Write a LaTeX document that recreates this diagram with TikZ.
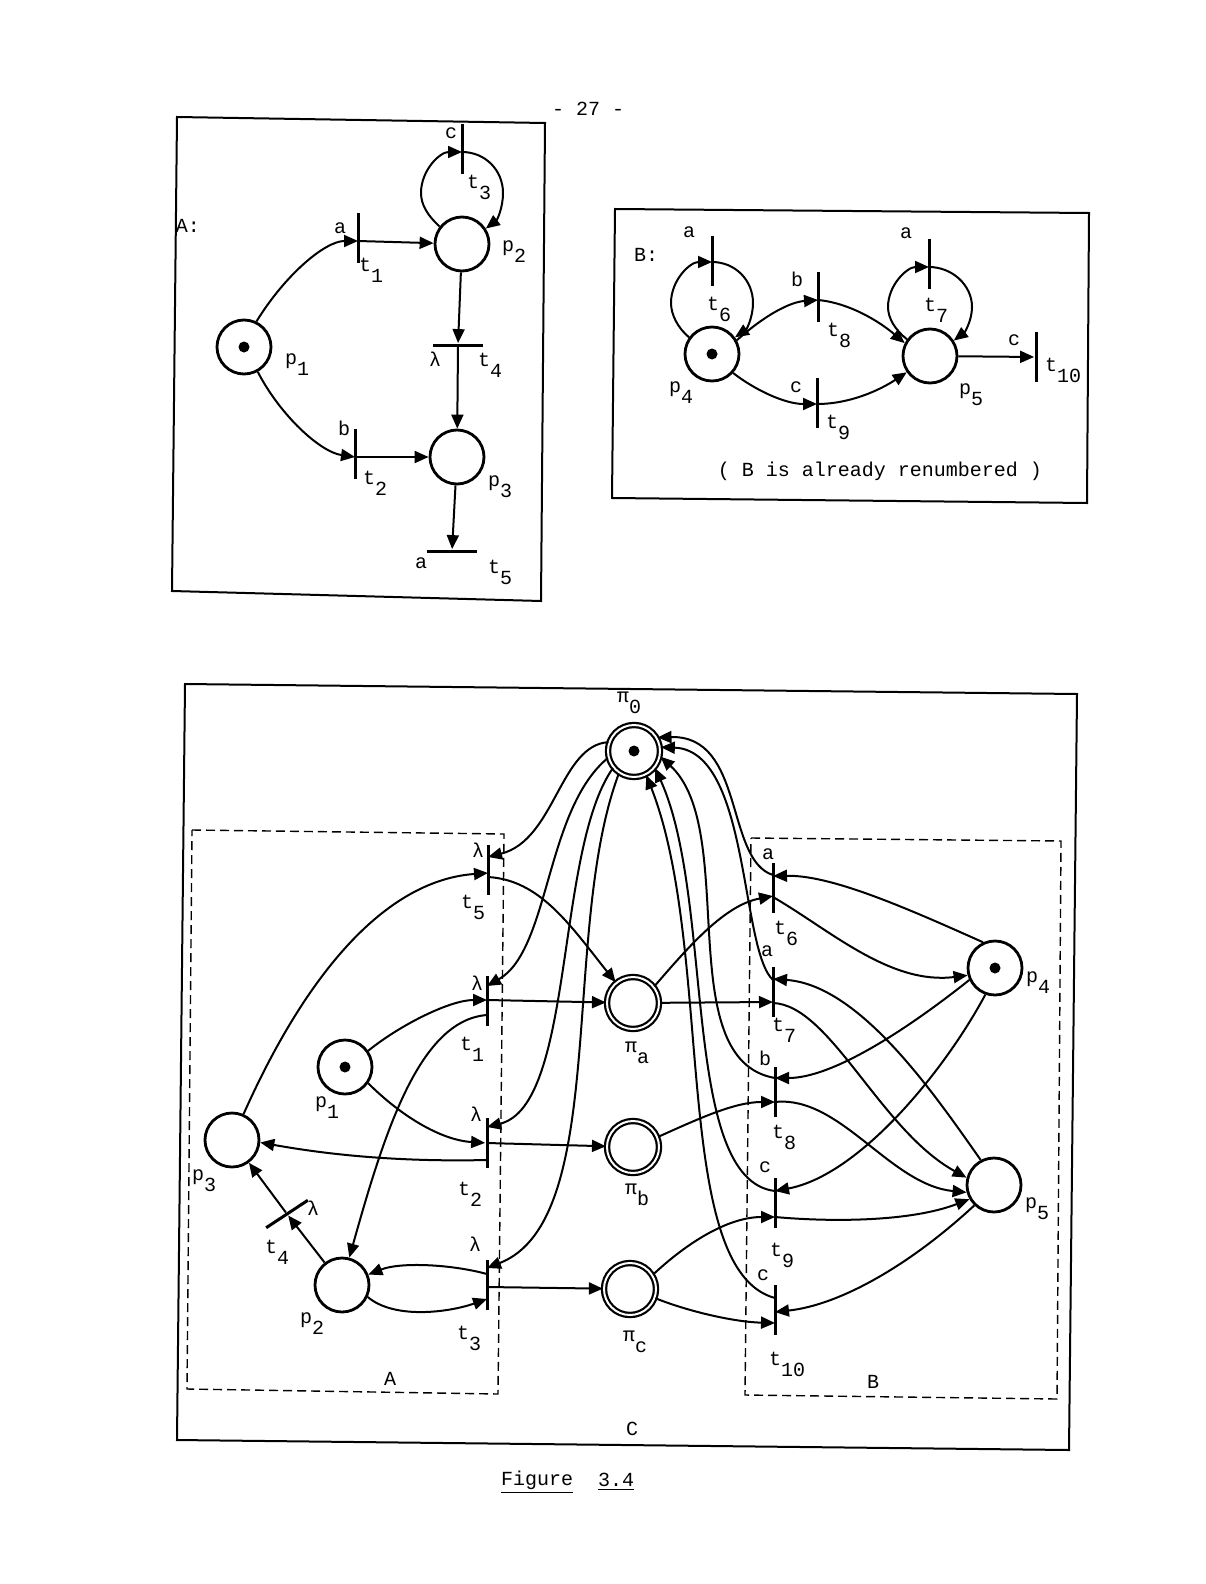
\documentclass[tikz,border=0pt]{standalone}
\usepackage{fontspec}
\setmainfont{Liberation Mono}
\usetikzlibrary{arrows.meta,calc}
\newcommand{\idx}[1]{\raisebox{-5.5pt}{#1}}

\begin{document}
\begin{tikzpicture}[x=0.5pt,y=-0.5pt,
    pnPlace/.style={circle,draw,line width=1.4pt,minimum size=27pt,inner sep=0pt},
    pnDouble/.style={circle,draw,line width=1.1pt,double,double distance=1pt,minimum size=26pt,inner sep=0pt},
    pnBar/.style={rectangle,fill=black,minimum width=1.5pt,minimum height=25pt,inner sep=0pt},
    pnArc/.style={line width=1pt,-{Triangle[length=7pt,width=6pt]}},
    pnFrame/.style={line width=1pt},
    pnBox/.style={line width=0.7pt,dash pattern=on 4.5pt off 2.5pt},
    pnLabel/.style={inner sep=0pt}]
  \useasboundingbox (0,0) rectangle (1205,1584);
  \node[pnLabel] (pageno) at (588,109) {- 27 -};

  % net A
  \draw[pnFrame] (177,117) -- (545,123) -- (541,601) -- (172,591) -- cycle;
  \node[pnPlace] (pa1) at (244,347) {};
  \node[pnPlace] (pa2) at (462,244) {};
  \node[pnPlace] (pa3) at (457,457) {};
  \fill (pa1) circle (5.5);
  \foreach \n/\x/\y in {ta1/358/238,ta2/355/454,ta3/462/149}
    \node[pnBar] (\n) at (\x,\y) {};
  \node[pnBar,rotate=90] (ta4) at (458,345) {};
  \node[pnBar,rotate=90] (ta5) at (452,551) {};
  \draw[pnArc] (pa1.64) .. controls (285,275) and (325,241) .. ($(ta1)+(0,3)$);
  \draw[pnArc] (pa1.-61) .. controls (280,415) and (320,452) .. ($(ta2)+(0,3)$);
  \draw[pnArc] ($(ta1)+(0,3)$) -- (pa2);
  \draw[pnArc] ($(ta2)+(0,3)$) -- (pa3);
  \draw[pnArc] (pa2.142) .. controls (428,216) and (421,205) .. (421,193) .. controls (421,170) and (440,152) .. ($(ta3)+(0,3)$);
  \draw[pnArc] ($(ta3)+(0,3)$) .. controls (485,152) and (503,170) .. (503,193) .. controls (503,208) and (497,220) .. (pa2.33);
  \draw[pnArc] (pa2) -- (ta4);
  \draw[pnArc] (ta4) -- (pa3);
  \draw[pnArc] (pa3) -- (ta5);
  \foreach \x/\y/\txt [count=\i] in {188/226/{A:},340/228/a,371/270/{t\idx{1}},514/252/{p\idx{2}},
      451/133/c,479/187/{t\idx{3}},297/365/{p\idx{1}},490/365/{t\idx{4}},435/359/λ,344/428/b,
      375/483/{t\idx{2}},500/487/{p\idx{3}},421/563/a,500/572/{t\idx{5}}}
    \node[pnLabel] (la\i) at (\x,\y) {\txt};

  % net B
  \draw[pnFrame] (615,209) -- (1089,213) -- (1087,503) -- (612,498) -- cycle;
  \node[pnPlace] (pb4) at (712,354) {};
  \node[pnPlace] (pb5) at (930,356) {};
  \fill (pb4) circle (5.5);
  \foreach \n/\x/\y in {tb6/712/261,tb7/929/264,tb8/818/297,tb9/817/403,tb10/1036/357}
    \node[pnBar] (\n) at (\x,\y) {};
  \draw[pnArc] (pb4.144) .. controls (678,328) and (671,315) .. (671,303) .. controls (671,280) and (690,262) .. ($(tb6)+(0,1)$);
  \draw[pnArc] ($(tb6)+(0,1)$) .. controls (735,262) and (753,280) .. (753,303) .. controls (753,318) and (746,330) .. (pb4.36);
  \draw[pnArc] (pb4.29) .. controls (765,315) and (790,302) .. ($(tb8)+(0,3)$);
  \draw[pnArc] ($(tb8)+(0,3)$) .. controls (850,303) and (880,322) .. (pb5.153);
  \draw[pnArc] (pb4.-42) .. controls (755,390) and (785,404) .. ($(tb9)+(0,1)$);
  \draw[pnArc] ($(tb9)+(0,1)$) .. controls (850,404) and (880,390) .. (pb5.215);
  \draw[pnArc] (pb5.144) .. controls (895,330) and (888,318) .. (888,307) .. controls (888,285) and (907,267) .. ($(tb7)+(0,3)$);
  \draw[pnArc] ($(tb7)+(0,3)$) .. controls (952,267) and (972,285) .. (972,307) .. controls (972,320) and (965,332) .. (pb5.33);
  \draw[pnArc] (pb5) -- (tb10);
  \foreach \x/\y/\txt [count=\i] in {689/232/a,646/255/{B:},719/309/{t\idx{6}},906/233/a,797/279/b,
      839/335/{t\idx{8}},936/310/{t\idx{7}},1014/340/c,1063/370/{t\idx{10}},681/393/{p\idx{4}},
      796/387/c,838/427/{t\idx{9}},971/395/{p\idx{5}},880/471/{( B is already renumbered )}}
    \node[pnLabel] (lb\i) at (\x,\y) {\txt};

  % net C
  \draw[pnFrame] (185,684) -- (1077,694) -- (1069,1450) -- (177,1440) -- cycle;
  \draw[pnBox] (192,830) -- (504,834) -- (498,1394) -- (187,1389) -- cycle;
  \draw[pnBox] (751,838) -- (1061,841) -- (1057,1399) -- (745,1395) -- cycle;
  \node[pnPlace] (pc1) at (345,1067) {};
  \node[pnPlace] (pc2) at (342,1285) {};
  \node[pnPlace] (pc3) at (232,1140) {};
  \node[pnPlace] (pc4) at (995,968) {};
  \node[pnPlace] (pc5) at (994,1185) {};
  \node[pnDouble] (pi0) at (634,751) {};
  \node[pnDouble] (pia) at (633,1003) {};
  \node[pnDouble] (pib) at (633,1147) {};
  \node[pnDouble] (pic) at (630,1289) {};
  \fill (pc1) circle (5.5);
  \fill (pc4) circle (5.5);
  \fill (pi0) circle (5.5);
  \foreach \n/\x/\y in {tc5/488/870,tc1/487/1001,tc2/487/1143,tc3/487/1285,tc6/773/888,
      tc7/773/992,tc8/775/1092,tc9/775/1203,tc10/775/1310}
    \node[pnBar] (\n) at (\x,\y) {};
  \node[pnBar,rotate=-56.6] (tc4) at (287,1214) {};

  \draw[pnArc] (pi0.161) .. controls (560,745) and (555,840) .. ($(tc5)+(0,-13)$);
  \draw[pnArc] (pi0.195) .. controls (545,810) and (550,950) .. ($(tc1)+(0,-15)$);
  \draw[pnArc] (pi0.219) .. controls (555,850) and (575,1105) .. ($(tc2)+(0,-16)$);
  \draw[pnArc] (pi0.236) .. controls (560,930) and (610,1220) .. ($(tc3)+(0,-17)$);

  \draw[pnArc] (pc3) .. controls (310,965) and (390,880) .. ($(tc5)+(0,3)$);
  \draw[pnArc] ($(tc5)+(0,7)$) .. controls (540,880) and (570,925) .. (pia.130);
  \draw[pnArc] (pc1.35) .. controls (400,1025) and (450,1000) .. ($(tc1)+(0,-1)$);
  \draw[pnArc] ($(tc1)+(0,-1)$) -- (pia);
  \draw[pnArc] ($(tc1)+(0,14)$) .. controls (420,1020) and (385,1130) .. (pc2.75);
  \draw[pnArc] (pc1.-35) .. controls (400,1115) and (440,1140) .. (tc2);
  \draw[pnArc] (tc2) -- (pib);
  \draw[pnArc] ($(tc2)+(0,17)$) .. controls (400,1162) and (330,1155) .. (pc3.-5);
  \draw[pnArc] (pc2) -- (tc4);
  \draw[pnArc] (tc4) -- (pc3);
  \draw[pnArc] ($(tc3)+(0,-11)$) .. controls (450,1264) and (400,1262) .. (pc2);
  \draw[pnArc] (pc2.-25) .. controls (395,1320) and (450,1312) .. ($(tc3)+(0,14)$);
  \draw[pnArc] ($(tc3)+(0,2)$) -- (pic);

  \draw[pnArc] ($(tc6)+(0,-13)$) .. controls (725,860) and (745,735) .. (pi0.30);
  \draw[pnArc] ($(tc7)+(0,-12)$) .. controls (740,950) and (750,750) .. (pi0.8);
  \draw[pnArc] ($(tc8)+(0,-14)$) .. controls (670,1060) and (740,830) .. (pi0.-12);
  \draw[pnArc] ($(tc9)+(0,-12)$) .. controls (680,1180) and (715,900) .. (pi0.-39);
  \draw[pnArc] ($(tc10)+(0,-12)$) .. controls (670,1270) and (715,950) .. (pi0.-63);

  \draw[pnArc] (pia.38) .. controls (690,945) and (725,905) .. ($(tc6)+(0,8)$);
  \draw[pnArc] (pia) -- ($(tc7)+(0,10)$);
  \draw[pnArc] (pib.22) .. controls (700,1118) and (735,1102) .. ($(tc8)+(0,10)$);
  \draw[pnArc] (pic.32) .. controls (690,1240) and (730,1217) .. ($(tc9)+(0,14)$);
  \draw[pnArc] (pic.-20) .. controls (690,1312) and (735,1322) .. ($(tc10)+(0,13)$);

  \draw[pnArc] (pc4.115) .. controls (900,905) and (830,875) .. ($(tc6)+(0,-12)$);
  \draw[pnArc] ($(tc6)+(0,9)$) .. controls (830,930) and (890,985) .. (pc4.195);
  \draw[pnArc] (pc5.118) .. controls (935,1095) and (860,985) .. ($(tc7)+(0,-13)$);
  \draw[pnArc] ($(tc7)+(0,11)$) .. controls (830,1005) and (880,1130) .. (pc5.165);
  \draw[pnArc] (pc4.205) .. controls (900,1035) and (830,1078) .. ($(tc8)+(0,-14)$);
  \draw[pnArc] ($(tc8)+(0,10)$) .. controls (840,1095) and (890,1185) .. (pc5.195);
  \draw[pnArc] (pc4.-110) .. controls (945,1070) and (860,1175) .. ($(tc9)+(0,-12)$);
  \draw[pnArc] ($(tc9)+(0,14)$) .. controls (830,1222) and (910,1222) .. (pc5.210);
  \draw[pnArc] (pc5.226) .. controls (910,1265) and (840,1305) .. ($(tc10)+(0,2)$);

  \foreach \x/\y/\txt [count=\i] in {629/703/{π\idx{0}},637/1053/{π\idx{a}},637/1195/{π\idx{b}},
      635/1342/{π\idx{c}},478/850/λ,473/907/{t\idx{5}},477/983/λ,472/1049/{t\idx{1}},327/1108/{p\idx{1}},
      476/1114/λ,470/1194/{t\idx{2}},204/1181/{p\idx{3}},313/1208/λ,277/1252/{t\idx{4}},475/1244/λ,
      312/1324/{p\idx{2}},469/1338/{t\idx{3}},390/1379/A,768/854/a,786/933/{t\idx{6}},767/951/a,
      784/1030/{t\idx{7}},765/1058/b,1038/983/{p\idx{4}},784/1137/{t\idx{8}},765/1167/c,1037/1209/{p\idx{5}},
      782/1255/{t\idx{9}},763/1275/c,787/1364/{t\idx{10}},873/1382/B,632/1429/C}
    \node[pnLabel] (lc\i) at (\x,\y) {\txt};
  \node[pnLabel] (fig) at (537,1482) {\underline{Figure}};
  \node[pnLabel] (fignum) at (616,1482) {\underline{3.4}};
\end{tikzpicture}
\end{document}
